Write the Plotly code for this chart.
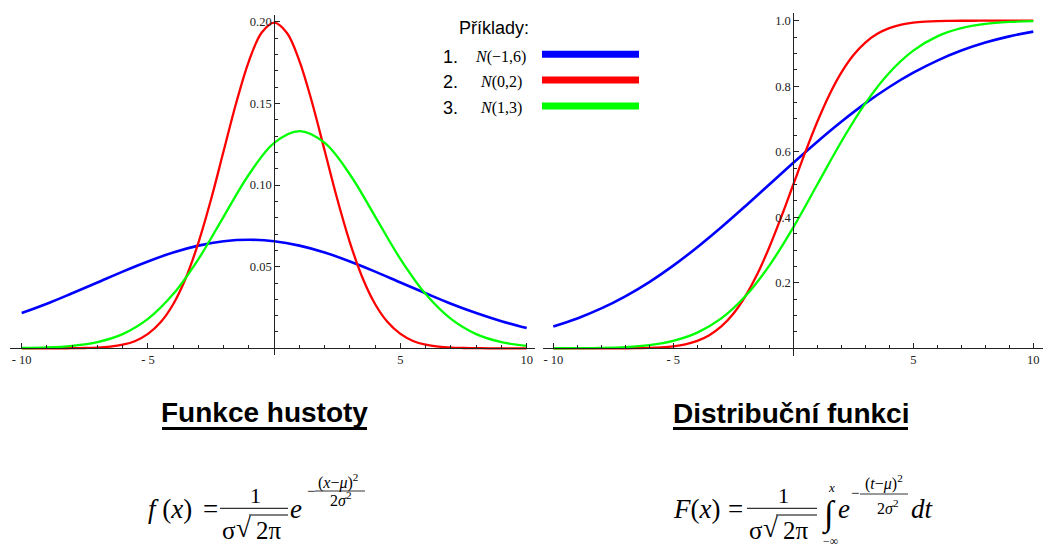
import plotly.graph_objects as go

# ---------------- data ----------------
x_coarse = [-10, -9, -8, -7, -6, -5, -4, -3, -2, -1, 0, 1, 2, 3, 4, 5, 6, 7, 8, 9, 10]
x_fine = [-10, -9.5, -9, -8.5, -8, -7.5, -7, -6.5, -6, -5.5, -5, -4.5, -4, -3.5, -3, -2.5,
          -2, -1.5, -1, -0.5, 0, 0.5, 1, 1.5, 2, 2.5, 3, 3.5, 4, 4.5, 5, 5.5, 6, 6.5, 7,
          7.5, 8, 8.5, 9, 9.5, 10]

series_names = ["N(−1,6)", "N(0,2)", "N(1,3)"]

pdf_n1 = [0.0216, 0.0273, 0.0337, 0.0403, 0.0470, 0.0532, 0.0587, 0.0629, 0.0656, 0.0665,
          0.0656, 0.0629, 0.0587, 0.0532, 0.0470, 0.0403, 0.0337, 0.0273, 0.0216, 0.0166, 0.0124]
pdf_n2 = [0.0000, 0.0000, 0.0000, 0.0000, 0.0001, 0.0002, 0.0004, 0.0010, 0.0022, 0.0045,
          0.0088, 0.0159, 0.0270, 0.0431, 0.0648, 0.0913, 0.1210, 0.1506, 0.1760, 0.1933,
          0.1995, 0.1933, 0.1760, 0.1506, 0.1210, 0.0913, 0.0648, 0.0431, 0.0270, 0.0159,
          0.0088, 0.0045, 0.0022, 0.0010, 0.0004, 0.0002, 0.0001, 0.0000, 0.0000, 0.0000, 0.0000]
pdf_n3 = [0.0002, 0.0005, 0.0015, 0.0038, 0.0087, 0.0180, 0.0332, 0.0547, 0.0807, 0.1065,
          0.1258, 0.1330, 0.1258, 0.1065, 0.0807, 0.0547, 0.0332, 0.0180, 0.0087, 0.0038, 0.0015]

cdf_n1 = [0.0668, 0.0912, 0.1217, 0.1587, 0.2023, 0.2525, 0.3085, 0.3694, 0.4338, 0.5000,
          0.5662, 0.6306, 0.6915, 0.7475, 0.7977, 0.8413, 0.8783, 0.9088, 0.9332, 0.9522, 0.9666]
cdf_n2 = [0.0000, 0.0000, 0.0000, 0.0000, 0.0000, 0.0001, 0.0002, 0.0006, 0.0013, 0.0030,
          0.0062, 0.0122, 0.0228, 0.0401, 0.0668, 0.1056, 0.1587, 0.2266, 0.3085, 0.4013,
          0.5000, 0.5987, 0.6915, 0.7734, 0.8413, 0.8944, 0.9332, 0.9599, 0.9772, 0.9878,
          0.9938, 0.9970, 0.9987, 0.9994, 0.9998, 0.9999, 1.0000, 1.0000, 1.0000, 1.0000, 1.0000]
cdf_n3 = [0.0001, 0.0004, 0.0013, 0.0038, 0.0098, 0.0228, 0.0478, 0.0912, 0.1587, 0.2525,
          0.3694, 0.5000, 0.6306, 0.7475, 0.8413, 0.9088, 0.9522, 0.9772, 0.9902, 0.9962, 0.9987]

x_tickvals = [-10, -5, 5, 10]
x_ticktext = ["- 10", "- 5", "5", "10"]
pdf_tickvals = [0.05, 0.10, 0.15, 0.20]
pdf_ticktext = ["0.05", "0.10", "0.15", "0.20"]
cdf_tickvals = [0.2, 0.4, 0.6, 0.8, 1.0]
cdf_ticktext = ["0.2", "0.4", "0.6", "0.8", "1.0"]

# ---------------- styling / layout ----------------
W, H = 1052, 547
SERIF = "Liberation Serif, Times New Roman, serif"
SANS = "Liberation Sans, Arial, sans-serif"
AX = "#222222"
colors = ["#0000ff", "#ff0000", "#00ff00"]
widths = [2.6, 2.3, 2.3]

LX_PX, LX_RANGE = (10, 535), [-10.463, 10.329]
LY_PX, LY_RANGE = (15, 355), [-0.0041, 0.2042]
RX_PX, RX_RANGE = (543, 1043), [-10.429, 10.404]
RY_PX, RY_RANGE = (13.3, 356), [-0.0235, 1.0226]


def xdom(p):
    return [p[0] / W, p[1] / W]


def ydom(p):
    return [1 - p[1] / H, 1 - p[0] / H]


def zero_pos(dom, rng):
    return dom[0] + (0 - rng[0]) / (rng[1] - rng[0]) * (dom[1] - dom[0])


fig = go.Figure()

pdf_sets = [(x_coarse, pdf_n1), (x_fine, pdf_n2), (x_coarse, pdf_n3)]
cdf_sets = [(x_coarse, cdf_n1), (x_fine, cdf_n2), (x_coarse, cdf_n3)]
for i, (xs, ys) in enumerate(pdf_sets):
    fig.add_trace(go.Scatter(x=xs, y=ys, mode="lines", name=series_names[i],
                             line=dict(color=colors[i], width=widths[i], shape="spline"),
                             xaxis="x", yaxis="y", showlegend=False, hoverinfo="skip"))
for i, (xs, ys) in enumerate(cdf_sets):
    fig.add_trace(go.Scatter(x=xs, y=ys, mode="lines", name=series_names[i],
                             line=dict(color=colors[i], width=widths[i], shape="spline"),
                             xaxis="x2", yaxis="y2", showlegend=False, hoverinfo="skip"))

tickfont = dict(family=SERIF, size=12.5, color=AX)


def xaxis_cfg(xpx, xr, ypx, yr):
    return dict(domain=xdom(xpx), range=xr, anchor="free",
                position=zero_pos(ydom(ypx), yr),
                showline=True, linecolor=AX, linewidth=1,
                ticks="inside", ticklen=5, tickwidth=1, tickcolor=AX,
                tickmode="array", tickvals=x_tickvals, ticktext=x_ticktext,
                tickfont=tickfont, showgrid=False, zeroline=False,
                minor=dict(tickmode="linear", tick0=0, dtick=1, ticks="inside",
                           ticklen=3, tickwidth=1, tickcolor=AX, showgrid=False))


def yaxis_cfg(xpx, xr, ypx, yr, tv, tt, mdt):
    return dict(domain=ydom(ypx), range=yr, anchor="free",
                position=zero_pos(xdom(xpx), xr),
                showline=True, linecolor=AX, linewidth=1,
                ticks="inside", ticklen=5, tickwidth=1, tickcolor=AX,
                tickmode="array", tickvals=tv, ticktext=tt,
                tickfont=tickfont, showgrid=False, zeroline=False,
                minor=dict(tickmode="linear", tick0=0, dtick=mdt, ticks="inside",
                           ticklen=3, tickwidth=1, tickcolor=AX, showgrid=False))


fig.update_layout(
    width=W, height=H, autosize=False,
    margin=dict(l=0, r=0, t=0, b=0),
    paper_bgcolor="white", plot_bgcolor="white",
    xaxis=xaxis_cfg(LX_PX, LX_RANGE, LY_PX, LY_RANGE),
    yaxis=yaxis_cfg(LX_PX, LX_RANGE, LY_PX, LY_RANGE, pdf_tickvals, pdf_ticktext, 0.01),
    xaxis2=xaxis_cfg(RX_PX, RX_RANGE, RY_PX, RY_RANGE),
    yaxis2=yaxis_cfg(RX_PX, RX_RANGE, RY_PX, RY_RANGE, cdf_tickvals, cdf_ticktext, 0.05),
)


def txt(s, x, y, size, family=SERIF, xanchor="center", color="black"):
    fig.add_annotation(text=s, x=x / W, y=1 - y / H, xref="paper", yref="paper",
                       showarrow=False, xanchor=xanchor, yanchor="middle",
                       borderpad=0, font=dict(family=family, size=size, color=color))


def hline(x0, x1, y, width, color="black"):
    fig.add_shape(type="line", xref="paper", yref="paper",
                  x0=x0 / W, x1=x1 / W, y0=1 - y / H, y1=1 - y / H,
                  line=dict(color=color, width=width))


# legend
txt("Příklady:", 458, 28.5, 18, SANS, xanchor="left")
legend_rows = [57, 82, 108]
for i, yy in enumerate(legend_rows):
    txt(f"{i + 1}.", 442, yy, 18, SANS, xanchor="left")
    name = series_names[i]
    txt("<i>N</i>" + name[1:], 500.5, yy, 16, SERIF)
    hline(542, 639, [54.3, 80, 106][i], 7, colors[i])

# titles
txt("<b>Funkce hustoty</b>", 264.5, 412, 28, SANS)
hline(162, 367, 428.5, 3)
txt("<b>Distribuční funkci</b>", 790.5, 413, 28, SANS)
hline(673, 908, 428.5, 3)

# left formula
txt("<i>f</i> (<i>x</i>)", 169.5, 509, 27)
txt("=", 210, 509, 27)
txt("1", 255, 495, 22)
hline(220, 288, 508.3, 1)
txt("σ", 229, 530, 25)
txt("√", 243, 528, 27)
txt("2π", 268.5, 530, 25)
hline(249, 288, 515, 1)
txt("<i>e</i>", 296, 509, 27)
txt("−", 310.5, 491, 15)
txt("(<i>x</i>−<i>μ</i>)<sup>2</sup>", 338, 481, 16)
hline(315, 365, 491, 0.8)
txt("2<i>σ</i><sup>2</sup>", 340, 499, 16)

# right formula
txt("<i>F</i>(<i>x</i>)", 696, 509, 27)
txt("=", 735, 509, 27)
txt("1", 783, 495, 22)
hline(747, 817, 508.3, 1)
txt("σ", 756, 530, 25)
txt("√", 770, 528, 27)
txt("2π", 795.5, 530, 25)
hline(776, 817, 515, 1)
txt("∫", 829, 514, 35)
txt("<i>x</i>", 831.5, 487, 13)
txt("−∞", 830, 541, 12)
txt("<i>e</i>", 843.5, 509, 27)
txt("−", 854.5, 493, 15)
txt("(<i>t</i>−<i>μ</i>)<sup>2</sup>", 884, 482, 16)
hline(860, 908, 494, 0.8)
txt("2<i>σ</i><sup>2</sup>", 887, 507, 16)
txt("<i>dt</i>", 922.5, 509, 27)

fig.write_html("out.html", config={"displayModeBar": False},
               post_script="document.body.style.margin='0';")
